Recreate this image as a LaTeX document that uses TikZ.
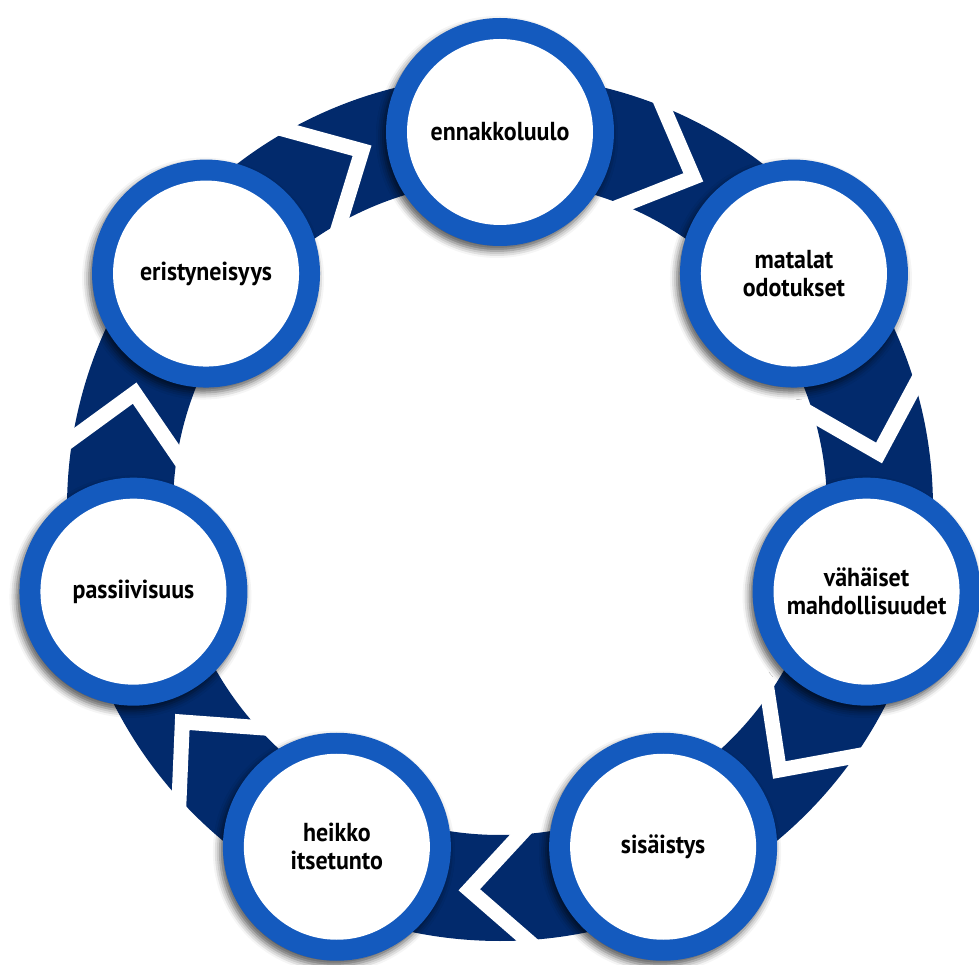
\documentclass[tikz,border=0pt]{standalone}
\usepackage{fontspec}
\setmainfont{PT Sans}[FakeStretch=0.92]
\usetikzlibrary{shadows.blur,calc}
\definecolor{navy}{HTML}{022A6C}
\definecolor{ringblue}{HTML}{145ABE}
\tikzset{
  bubble/.style={circle, fill=ringblue, minimum size=228pt, inner sep=0pt,
    align=center, font=\bfseries\fontsize{26}{28}\selectfont,
    blur shadow={shadow xshift=-3pt, shadow yshift=-5pt, shadow blur radius=7pt, shadow opacity=65},
    path picture={\fill[white] (path picture bounding box.center) circle (93pt);}},
  band/.style={fill=navy, even odd rule},
  gap/.style={draw=white, line width=15pt, miter limit=10}
}
\begin{document}
\begin{tikzpicture}[x=1pt,y=1pt]
\useasboundingbox (-500,-457) rectangle (479,508);
% ring band
\fill[band] (0,0) circle (433) (0,0) circle (327);
% chevron gaps
\foreach \k in {0,...,6}{
  \pgfmathsetmacro\m{90-(\k+0.5)*360/7}
  \pgfmathsetmacro\ma{\m-4.6}
  \pgfmathsetmacro\mc{\m+3.6}
  \coordinate (ap\k) at (\ma:383);
  \coordinate (co\k) at (\mc:433);
  \coordinate (ci\k) at (\mc:327);
  \draw[gap] ($(ap\k)!1.3!(co\k)$) -- (ap\k) -- ($(ap\k)!1.3!(ci\k)$);
}
% bubbles
\node[bubble] (n1) at (90:376) {ennakkoluulo};
\node[bubble] (n2) at ({90-360/7}:376) {matalat\\odotukset};
\node[bubble] (n3) at ({90-2*360/7}:376) {vähäiset\\mahdollisuudet};
\node[bubble] (n4) at ({90-3*360/7}:376) {sisäistys};
\node[bubble] (n5) at ({90-4*360/7}:376) {heikko\\itsetunto};
\node[bubble] (n6) at ({90-5*360/7}:376) {passiivisuus};
\node[bubble] (n7) at ({90-6*360/7}:376) {eristyneisyys};
\end{tikzpicture}
\end{document}
